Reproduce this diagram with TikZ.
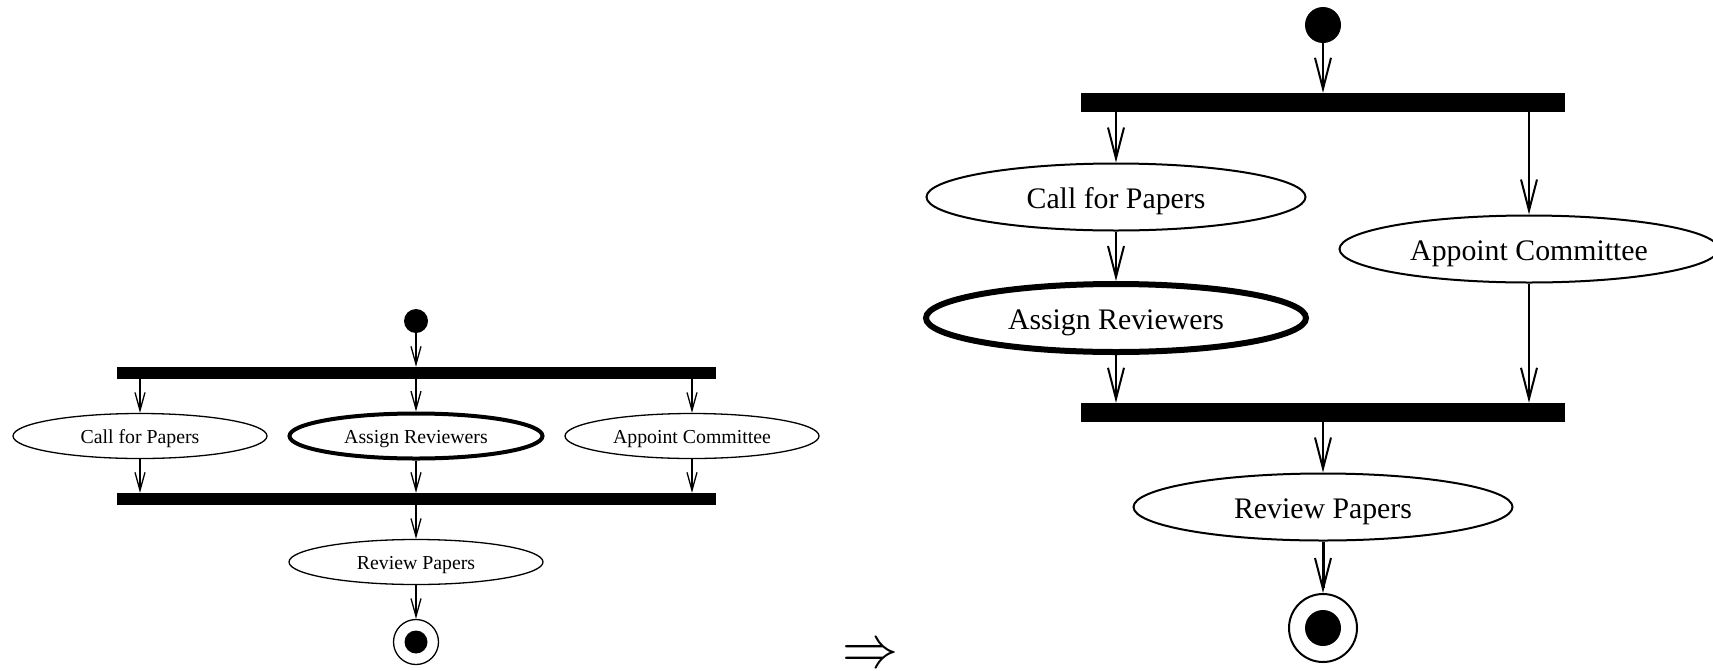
\documentclass[tikz,border=0pt]{standalone}
\usepackage{graphicx}
\usepackage{fontspec}
\setmainfont{Liberation Serif}
\usetikzlibrary{shapes.geometric,arrows.meta}

\begin{document}
\begin{tikzpicture}[x=1pt,y=-1pt,
  % small diagram
  sact/.style={ellipse,draw,line width=1.3pt,minimum width=254pt,minimum height=45pt,inner sep=0pt,
    font=\fontsize{19.8}{22}\selectfont,text height=15pt,text depth=0pt},
  sbar/.style={rectangle,fill=black,inner sep=0pt,minimum width=599pt,minimum height=12pt},
  sflow/.style={line width=1.3pt,-{Straight Barb[length=18pt,width=10pt,line width=1.3pt]}},
  % large diagram
  bact/.style={ellipse,draw,line width=2pt,minimum width=379pt,minimum height=67pt,inner sep=0pt,
    font=\fontsize{29.8}{32}\selectfont,text height=22.6pt,text depth=0pt},
  bbar/.style={rectangle,fill=black,inner sep=0pt,minimum width=484pt,minimum height=19pt},
  bflow/.style={line width=2pt,-{Straight Barb[length=31pt,width=16pt,line width=2pt]}},
  dot/.style={circle,fill=black,inner sep=0pt,minimum size=#1},
  ring/.style={circle,draw,inner sep=0pt,minimum size=#1},
]
\useasboundingbox (0,0) rectangle (1713,670);

% ---------- small diagram: three parallel activities ----------
\node[dot=24pt] (s0) at (416,321) {};
\node[sbar] (sf) at (416,373) {};
\node[sact] (scfp) at (140,436) {Call for Papers};
\node[sact,line width=4pt,minimum width=253pt] (sar) at (416,436) {Assign Reviewers};
\node[sact] (sac) at (692,436) {Appoint Committee};
\node[sbar] (sj) at (416,499) {};
\node[sact] (srp) at (416,562) {Review Papers};
\node[ring=45pt,line width=1.3pt] (se) at (416,642) {};
\node[dot=23pt] (sed) at (se) {};

\draw[sflow] (s0) -- (sf.north -| s0);
\foreach \n in {scfp,sar,sac}{
  \draw[sflow] (sf.south -| \n) -- (\n);
  \draw[sflow] (\n) -- (sj.north -| \n);
}
\draw[sflow] (sj.south -| srp) -- (srp);
\draw[sflow,line width=1.8pt] (srp) -- (se);

% ---------- transformation arrow ----------
\node[inner sep=0pt] (impl) at (870,656) {\scalebox{5.6}[6]{$\Rightarrow$}};

% ---------- large diagram: call for papers before assigning reviewers ----------
\node[dot=36pt] (b0) at (1323,25) {};
\node[bbar] (bf) at (1323,102.5) {};
\node[bact] (bcfp) at (1116,197) {Call for Papers};
\node[bact,line width=6pt,minimum width=380pt,minimum height=68pt] (bar) at (1116,318) {Assign Reviewers};
\node[bact] (bac) at (1529,249) {Appoint Committee};
\node[bbar] (bj) at (1323,412.5) {};
\node[bact] (brp) at (1323,507) {Review Papers};
\node[ring=68pt,line width=2pt] (be) at (1323,628) {};
\node[dot=36pt] (bed) at (be) {};

\draw[bflow] (b0) -- (bf.north -| b0);
\draw[bflow] (bf.south -| bcfp) -- (bcfp);
\draw[bflow] (bf.south -| bac) -- (bac);
\draw[bflow] (bcfp) -- (bar);
\draw[bflow] (bar) -- (bj.north -| bar);
\draw[bflow] (bac) -- (bj.north -| bac);
\draw[bflow] (bj.south -| brp) -- (brp);
\draw[bflow,line width=3pt] (brp) -- (be);
\end{tikzpicture}
\end{document}
